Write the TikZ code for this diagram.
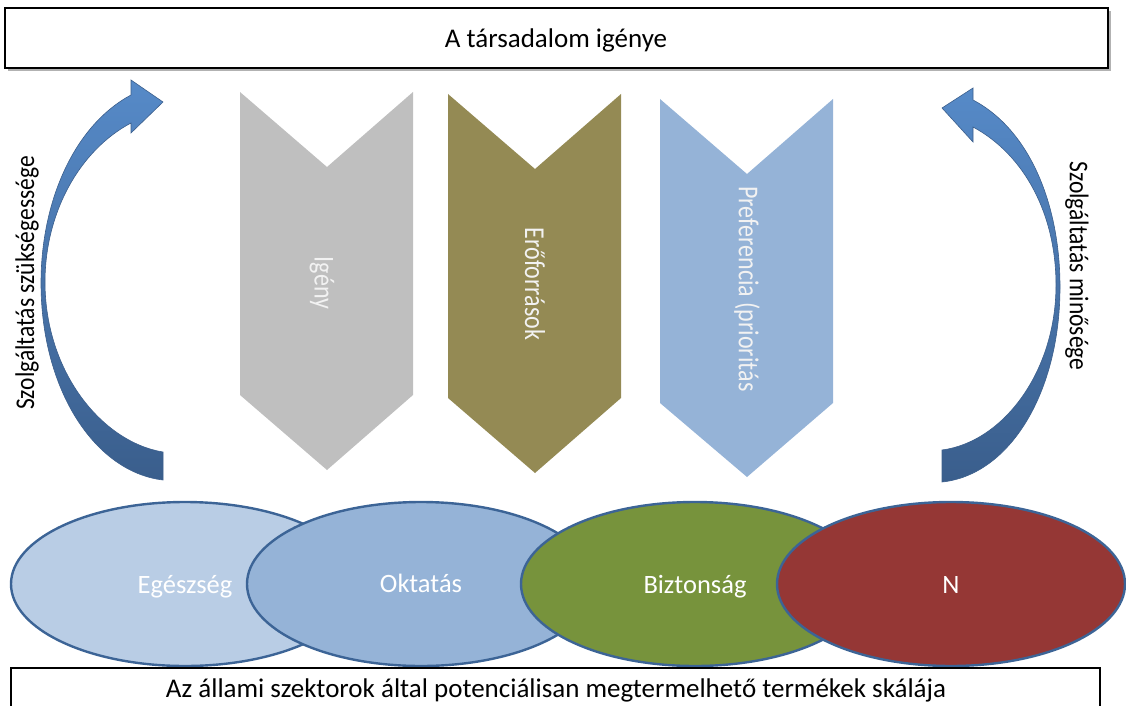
\documentclass[tikz,border=0pt]{standalone}
\usepackage{fontspec}
\setmainfont{Carlito}
\usetikzlibrary{shapes.geometric}
\definecolor{chgray}{RGB}{191,191,191}
\definecolor{cholive}{RGB}{148,138,84}
\definecolor{chblue}{RGB}{149,179,215}
\definecolor{elA}{RGB}{185,205,229}
\definecolor{elB}{RGB}{149,179,215}
\definecolor{elC}{RGB}{119,147,60}
\definecolor{elD}{RGB}{149,55,53}
\definecolor{eledge}{RGB}{60,100,150}
\definecolor{arrtop}{RGB}{86,138,200}
\definecolor{arrbot}{RGB}{58,94,140}
\definecolor{arredge}{RGB}{60,95,140}
\begin{document}
\begin{tikzpicture}[x=1pt,y=-1pt,
  framebox/.style={draw=black,line width=2.2pt,fill=white},
  shadowbox/.style={fill=black!30},
  sector/.style={ellipse,draw=eledge,line width=2.4pt,minimum width=348pt,minimum height=164pt,inner sep=0pt},
  sectortext/.style={text=white,font=\fontsize{26.5}{30}\selectfont,inner sep=0pt,anchor=base},
  chevtext/.style={rotate=-90,text={black!5},font=\fontsize{24}{28}\selectfont,inner sep=0pt},
  sidetext/.style={font=\fontsize{23.5}{28}\selectfont,inner sep=0pt},
  bigarrow/.style={top color=arrtop,bottom color=arrbot,draw=arredge,line width=0.6pt},
  boxtext/.style={font=\fontsize{27}{32}\selectfont,inner sep=0pt}
]
\useasboundingbox (0,0) rectangle (1126,706);

% top box
\fill[shadowbox] (8,11) rectangle (1111,71);
\draw[framebox] (5,8) rectangle (1108,68);
\node[boxtext] (top) at (556,40) {A társadalom igénye};

% curved arrows
\draw[bigarrow] (163,102) -- (131,80) -- (131,95)
  .. controls (75,125) and (41,200) .. (41,283)
  .. controls (41,390) and (95,472) .. (163,480)
  -- (163,452)
  .. controls (102,442) and (45,372) .. (45,282)
  .. controls (45,212) and (80,150) .. (131,123)
  -- (131,133) -- cycle;
\draw[bigarrow] (942,108) -- (973,88) -- (973,100)
  .. controls (1030,130) and (1060,205) .. (1060,287)
  .. controls (1060,392) and (1010,475) .. (942,482)
  -- (942,450)
  .. controls (1003,442) and (1056,372) .. (1056,285)
  .. controls (1056,215) and (1025,155) .. (973,127)
  -- (973,142) -- cycle;
\node[sidetext,rotate=90] (need) at (27,283) {\scalebox{1}[1.15]{Szolgáltatás szükségessége}};
\node[sidetext,rotate=-90] (qual) at (1077,266) {\scalebox{1}[1.15]{Szolgáltatás minősége}};

% chevrons
\fill[chgray] (240,92) -- (327,167) -- (413,92) -- (413,395) -- (327,470) -- (240,395) -- cycle;
\fill[cholive] (448,94) -- (535,169) -- (621,94) -- (621,398) -- (535,473) -- (448,398) -- cycle;
\fill[chblue] (660,99) -- (747,174) -- (833,99) -- (833,403) -- (747,477) -- (660,403) -- cycle;
\node[chevtext] (igeny) at (322,283) {\scalebox{1}[1.2]{Igény}};
\node[chevtext] (ero) at (535,284) {\scalebox{1}[1.2]{Erőforrások}};
\node[chevtext] (pref) at (747,289) {\scalebox{1}[1.2]{Preferencia (prioritás}};

% sectors
\node[sector,fill=elA] (eg) at (185,584) {};
\node[sector,fill=elB] (ok) at (421,584) {};
\node[sector,fill=elC] (bi) at (695,584) {};
\node[sector,fill=elD] (nn) at (951,584) {};
\node[sectortext] (egt) at (185,593) {Egészség};
\node[sectortext] (okt) at (421,592) {Oktatás};
\node[sectortext] (bit) at (695,593) {Biztonság};
\node[sectortext] (nnt) at (951,593) {N};

% bottom box
\draw[framebox] (11,668) rectangle (1100,720);
\node[boxtext] (bottom) at (556,690) {Az állami szektorok által potenciálisan megtermelhető termékek skálája};
\end{tikzpicture}
\end{document}
